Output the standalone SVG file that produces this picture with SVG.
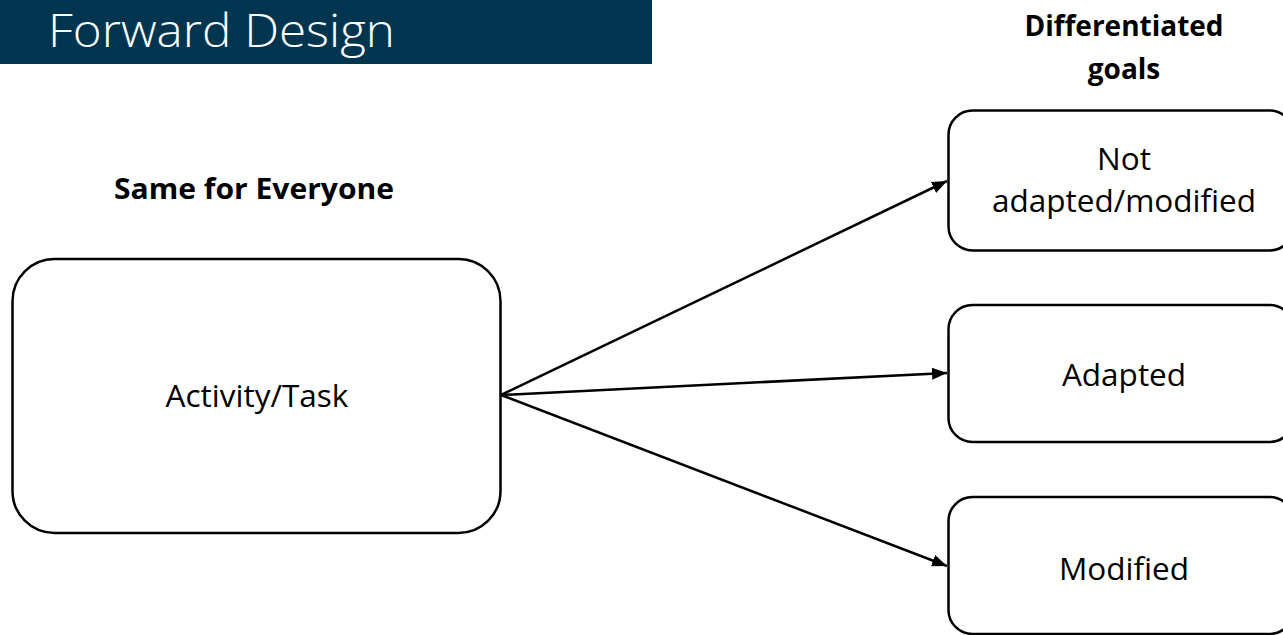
<svg xmlns="http://www.w3.org/2000/svg" width="1283" height="635" viewBox="0 0 1283 635">
  <style>
    .box { fill: #ffffff; stroke: #000000; stroke-width: 2.5; }
    .lbl { font-family: "Open Sans", Lato, sans-serif; font-size: 31.5px; fill: #000000; text-anchor: middle; }
    .head { font-family: "Open Sans", Lato, sans-serif; font-size: 28px; font-weight: bold; fill: #000000; text-anchor: middle; }
    .edge { stroke: #000000; stroke-width: 2.5; fill: none; marker-end: url(#arrow); }
  </style>
  <defs>
    <marker id="arrow" viewBox="0 0 10 10" refX="10" refY="5" markerWidth="15" markerHeight="12" markerUnits="userSpaceOnUse" orient="auto" preserveAspectRatio="none">
      <path d="M0,0 L10,5 L0,10 z" fill="#000000"/>
    </marker>
  </defs>
  <rect width="1283" height="635" fill="#ffffff"/>

  <!-- title banner -->
  <g id="title">
    <rect x="0" y="0" width="652" height="64" fill="#003550"/>
    <text x="48" y="47" font-family="'Open Sans', Lato, sans-serif" font-weight="300" font-size="46" textLength="347" lengthAdjust="spacingAndGlyphs" fill="#ffffff">Forward Design</text>
  </g>

  <!-- column headings -->
  <g id="heading-same">
    <text class="head" x="254" y="199" font-size="29.5" textLength="280" lengthAdjust="spacingAndGlyphs">Same for Everyone</text>
  </g>
  <g id="heading-goals">
    <text class="head" x="1124" y="36">Differentiated</text>
    <text class="head" x="1124" y="79">goals</text>
  </g>

  <!-- connectors -->
  <g id="connectors">
    <line class="edge" x1="501" y1="395" x2="947" y2="181"/>
    <line class="edge" x1="501" y1="395" x2="947" y2="373"/>
    <line class="edge" x1="501" y1="395" x2="947" y2="566"/>
  </g>

  <!-- nodes -->
  <g id="activity">
    <rect class="box" x="12.5" y="259" width="488" height="274" rx="42" ry="42"/>
    <text class="lbl" x="257" y="407">Activity/Task</text>
  </g>
  <g id="not-adapted">
    <rect class="box" x="948.5" y="110.5" width="345" height="140" rx="24" ry="24"/>
    <text class="lbl" x="1124" y="170">Not</text>
    <text class="lbl" x="1124" y="212">adapted/modified</text>
  </g>
  <g id="adapted">
    <rect class="box" x="948.5" y="305" width="345" height="137" rx="24" ry="24"/>
    <text class="lbl" x="1124" y="386">Adapted</text>
  </g>
  <g id="modified">
    <rect class="box" x="948.5" y="497" width="345" height="137" rx="24" ry="24"/>
    <text class="lbl" x="1124" y="580">Modified</text>
  </g>
</svg>
